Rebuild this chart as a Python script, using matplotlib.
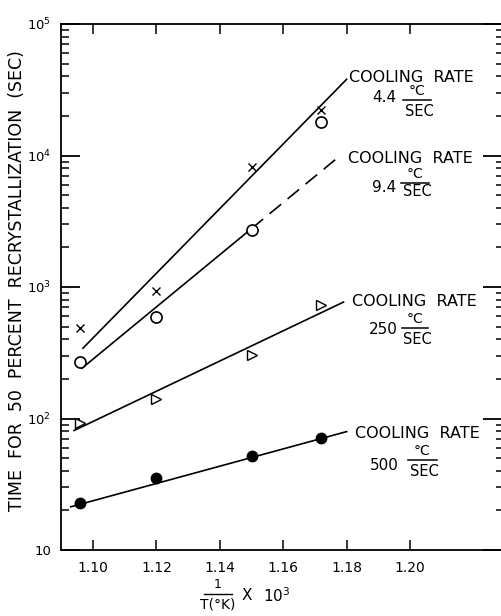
import matplotlib
matplotlib.use("Agg")
import matplotlib.pyplot as plt
from matplotlib.lines import Line2D
from matplotlib.ticker import LogLocator, NullFormatter, FixedLocator

plt.rcParams["font.family"] = ["DejaVu Sans"]
plt.rcParams["mathtext.fontset"] = "dejavusans"

W, H = 502, 616

# measured points, 1/T x 10^3 vs. time (sec)
temp_x = [1.096, 1.12, 1.15, 1.172]
rate_4_4 = [490, 930, 8200, 22000]
rate_9_4 = [267, 590, 2720, 17900]
rate_250 = [93, 140, 303, 728]
rate_500 = [22.9, 35.5, 52, 71.6]

# fitted lines (end points; 9.4 line has a dashed extrapolation after 1.15)
fit_4_4_x = [1.0968, 1.18]
fit_4_4_y = [342, 38000]
fit_9_4_x = [1.0965, 1.15, 1.178]
fit_9_4_y = [241, 2780, 10000]
fit_250_x = [1.094, 1.179]
fit_250_y = [81, 768]
fit_500_x = [1.093, 1.18]
fit_500_y = [21.3, 79.5]

x_ticks = [1.10, 1.12, 1.14, 1.16, 1.18, 1.20]
x_tick_labels = ["1.10", "1.12", "1.14", "1.16", "1.18", "1.20"]
y_ticks = [10, 100, 1000, 10000, 100000]
y_tick_labels = ["10", "$10^2$", "$10^3$", "$10^4$", "$10^5$"]

rate_labels = ["4.4", "9.4", "250", "500"]


def fx(px):
    return px / W


def fy(py):
    return 1 - py / H


fig = plt.figure(figsize=(W / 100, H / 100), dpi=100)
ax = fig.add_axes([fx(61), fy(550), (502 - 61) / W, (550 - 24) / H])
ax.set_yscale("log")
ax.set_xlim(1.0899, 1.229)
ax.set_ylim(10, 1e5)

k = dict(color="black", lw=1.2)
ax.plot(fit_4_4_x, fit_4_4_y, **k)
ax.plot(fit_9_4_x[:2], fit_9_4_y[:2], **k)
ax.plot(fit_9_4_x[1:], fit_9_4_y[1:], ls=(0, (9, 5)), **k)
ax.plot(fit_250_x, fit_250_y, **k)
ax.plot(fit_500_x, fit_500_y, **k)

ax.plot(temp_x, rate_4_4, "x", color="black", ms=6, mew=1.0)
ax.plot(temp_x, rate_9_4, "o", mfc="white", mec="black", ms=8, mew=1.2)
ax.plot(temp_x, rate_250, ">", mfc="white", mec="black", ms=7, mew=1.0)
ax.plot(temp_x, rate_500, "o", color="black", ms=7.5)

ax.spines["right"].set_visible(False)
for s in ["left", "top", "bottom"]:
    ax.spines[s].set_linewidth(1.3)

ax.xaxis.set_major_locator(FixedLocator(x_ticks))
ax.set_xticklabels(x_tick_labels, fontsize=10)
ax.yaxis.set_major_locator(FixedLocator(y_ticks))
ax.set_yticklabels(y_tick_labels, fontsize=9.5)
ax.yaxis.set_minor_locator(LogLocator(base=10, subs=range(2, 10)))
ax.yaxis.set_minor_formatter(NullFormatter())

ax.tick_params(axis="x", which="major", direction="in", length=7, width=1.1,
               top=True, bottom=True, pad=8)
ax.tick_params(axis="y", which="major", direction="in", length=14, width=1.3,
               left=True, right=False, pad=7)
ax.tick_params(axis="y", which="minor", direction="in", length=6, width=1.1,
               left=True, right=False)

# right side ticks (shorter minor ticks, no spine)
sec = ax.secondary_yaxis("right")
sec.spines["right"].set_visible(False)
sec.yaxis.set_major_locator(FixedLocator(y_ticks))
sec.yaxis.set_minor_locator(LogLocator(base=10, subs=range(2, 10)))
sec.yaxis.set_major_formatter(NullFormatter())
sec.yaxis.set_minor_formatter(NullFormatter())
sec.tick_params(which="major", direction="in", length=14, width=1.3)
sec.tick_params(which="minor", direction="in", length=4, width=1.1)

fig.text(fx(17), fy(281), "TIME  FOR  50  PERCENT  RECRYSTALLIZATION  (SEC)",
         rotation=90, ha="center", va="center", fontsize=12.5)

# x label: 1/T(K) x 10^3
fig.text(fx(218), fy(585), "1", ha="center", va="center", fontsize=9)
fig.add_artist(Line2D([fx(204), fx(232)], [fy(594), fy(594)], color="black", lw=1.0))
fig.text(fx(218), fy(605), "T(°K)", ha="center", va="center", fontsize=10)
fig.text(fx(247), fy(596), "X", ha="center", va="center", fontsize=11)
fig.text(fx(263), fy(596), "$10^3$", ha="left", va="center", fontsize=11)

# cooling rate labels: (cooling x, cooling y, number right, number y, bar x0, bar x1, bar y, deg y, sec y)
label_pos = [
    (349, 78, 396, 97, 403, 431, 100, 91, 111),
    (348, 158, 396, 187, 401, 429, 183, 174, 192),
    (352, 302, 398, 330, 402, 428, 328, 319, 339),
    (355, 434, 399, 465, 408, 437, 460, 451, 472),
]
for rl, (cx, cy, nx, ny, bx0, bx1, by, dy, sy) in zip(rate_labels, label_pos):
    fig.text(fx(cx), fy(cy), "COOLING  RATE", ha="left", va="center", fontsize=11.5)
    fig.text(fx(nx), fy(ny), rl, ha="right", va="center", fontsize=11)
    bc = (bx0 + bx1) / 2
    fig.add_artist(Line2D([fx(bx0), fx(bx1)], [fy(by), fy(by)], color="black", lw=1.1))
    fig.text(fx(bc), fy(dy), "°C", ha="center", va="center", fontsize=10)
    fig.text(fx(bc + 2), fy(sy), "SEC", ha="center", va="center", fontsize=10.5)

fig.savefig("out.png", dpi=100)
